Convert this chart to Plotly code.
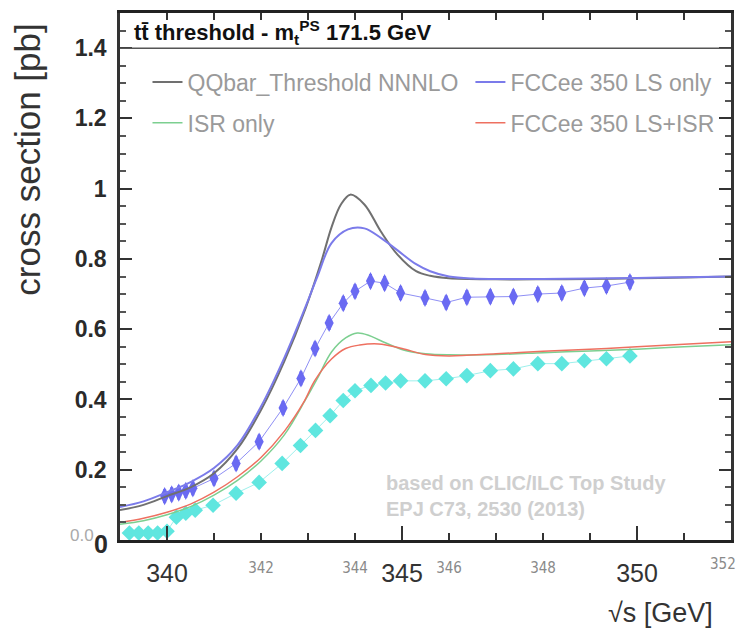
import plotly.graph_objects as go

# ---- data ----
# theory curves
qq_x = [339.0, 339.5, 340.0, 340.5, 341.0, 341.5, 342.0, 342.5, 342.95, 343.3, 343.5, 343.7, 343.9,
        344.2, 344.55, 344.9, 345.3, 345.6, 346.0, 347.0, 348.0, 349.0, 350.0, 351.0, 352.0]
qq_y = [0.085, 0.10, 0.125, 0.15, 0.19, 0.26, 0.37, 0.51, 0.66, 0.80, 0.89, 0.955, 0.983,
        0.955, 0.878, 0.813, 0.765, 0.752, 0.745, 0.742, 0.742, 0.743, 0.745, 0.747, 0.75]

ls_x = [339.0, 339.5, 340.0, 340.5, 341.0, 341.5, 342.0, 342.5, 342.95, 343.2, 343.5, 343.85, 344.2,
        344.55, 344.9, 345.3, 345.6, 346.0, 346.5, 347.0, 348.0, 349.0, 350.0, 351.0, 352.0]
ls_y = [0.094, 0.11, 0.136, 0.165, 0.205, 0.27, 0.38, 0.52, 0.665, 0.75, 0.845, 0.884, 0.887,
        0.86, 0.825, 0.785, 0.765, 0.75, 0.744, 0.743, 0.743, 0.744, 0.746, 0.748, 0.75]

isr_x = [339.0, 339.5, 340.0, 340.5, 341.0, 341.5, 342.0, 342.5, 342.95, 343.2, 343.5, 343.8, 344.05,
         344.3, 344.55, 345.05, 345.5, 346.0, 347.0, 348.0, 349.0, 350.0, 351.0, 352.0]
isr_y = [0.045, 0.055, 0.072, 0.095, 0.128, 0.17, 0.225, 0.30, 0.40, 0.46, 0.535, 0.575, 0.589,
         0.582, 0.567, 0.54, 0.53, 0.527, 0.528, 0.533, 0.538, 0.543, 0.55, 0.556]

lsisr_x = [339.0, 339.5, 340.0, 340.5, 341.0, 341.5, 342.0, 342.5, 342.9, 343.15, 343.5, 343.8, 344.1,
           344.5, 345.0, 345.5, 346.0, 347.0, 348.0, 349.0, 350.0, 351.0, 352.0]
lsisr_y = [0.05, 0.062, 0.079, 0.102, 0.136, 0.18, 0.235, 0.31, 0.39, 0.455, 0.515, 0.545, 0.555,
           0.558, 0.545, 0.528, 0.524, 0.53, 0.537, 0.543, 0.55, 0.557, 0.564]

# pseudo-data points
blue_x = [339.95, 340.1, 340.25, 340.4, 340.55, 341.0, 341.47, 341.96, 342.47, 342.85, 343.15, 343.45,
          343.75, 344.0, 344.33, 344.63, 344.97, 345.49, 345.94, 346.38, 346.88, 347.37, 347.89,
          348.4, 348.88, 349.35, 349.85]
blue_y = [0.125, 0.13, 0.135, 0.14, 0.147, 0.175, 0.218, 0.28, 0.376, 0.46, 0.545, 0.618,
          0.674, 0.708, 0.737, 0.731, 0.703, 0.689, 0.676, 0.691, 0.693, 0.693, 0.70,
          0.703, 0.717, 0.723, 0.734]
blue_err = [0.02] * len(blue_x)

cyan_x = [339.2, 339.4, 339.6, 339.8, 340.0, 340.2, 340.4, 340.6, 340.98, 341.47, 341.96, 342.45,
          342.84, 343.16, 343.47, 343.75, 344.0, 344.34, 344.65, 344.97, 345.49, 345.94, 346.38,
          346.88, 347.37, 347.89, 348.4, 348.88, 349.35, 349.85]
cyan_y = [0.02, 0.02, 0.02, 0.02, 0.025, 0.065, 0.076, 0.085, 0.099, 0.133, 0.164, 0.218,
          0.269, 0.312, 0.354, 0.397, 0.425, 0.44, 0.447, 0.453, 0.453, 0.459, 0.468,
          0.482, 0.487, 0.502, 0.502, 0.510, 0.516, 0.524]
cyan_err = [0.015] * len(cyan_x)

x_minor_ticks = list(range(339, 353))
x_small_labels = [str(v) if (v % 2 == 0 and v not in (340, 350, 352)) else "" for v in x_minor_ticks]
x_edge_label = "352"
x_big_ticks = [340, 345, 350]
y_ticks = [0, 0.2, 0.4, 0.6, 0.8, 1.0, 1.2, 1.4]
y_labels = ["", "0.2", "0.4", "0.6", "0.8", "1", "1.2", "1.4"]

small_font = dict(size=15, color="#8a8a8a",
                  family="DejaVu Sans Condensed, Liberation Sans Narrow, Liberation Sans")

fig = go.Figure()

fig.add_trace(go.Scatter(x=cyan_x, y=cyan_y, mode="lines+markers",
                         line=dict(color="#9ef0ec", width=1),
                         marker=dict(symbol="diamond", size=12, color="#5fe6df"),
                         error_y=dict(type="data", array=cyan_err, color="#5fe6df", thickness=3, width=0),
                         showlegend=False))
fig.add_trace(go.Scatter(x=blue_x, y=blue_y, mode="lines+markers",
                         line=dict(color="#8f8ff5", width=1),
                         marker=dict(symbol="diamond-tall", size=13, color="#6a6af2"),
                         error_y=dict(type="data", array=blue_err, color="#6a6af2", thickness=3, width=0),
                         showlegend=False))

fig.add_trace(go.Scatter(x=qq_x, y=qq_y, mode="lines", name="QQbar_Threshold NNNLO",
                         line=dict(color="#707070", width=2, shape="spline"),
                         legend="legend", legendgroup="a"))
fig.add_trace(go.Scatter(x=isr_x, y=isr_y, mode="lines", name="ISR only",
                         line=dict(color="#7ccf90", width=1.5, shape="spline"),
                         legend="legend", legendgroup="b"))
fig.add_trace(go.Scatter(x=ls_x, y=ls_y, mode="lines", name="FCCee 350 LS only",
                         line=dict(color="#7b7bea", width=2, shape="spline"),
                         legend="legend2", legendgroup="c"))
fig.add_trace(go.Scatter(x=lsisr_x, y=lsisr_y, mode="lines", name="FCCee 350 LS+ISR",
                         line=dict(color="#ee7060", width=1.5, shape="spline"),
                         legend="legend2", legendgroup="d"))
# carrier for the overlay axis with the large labels
fig.add_trace(go.Scatter(x=[None], y=[None], xaxis="x2", showlegend=False, hoverinfo="skip"))

fig.update_layout(
    width=741, height=626,
    margin=dict(l=112, r=18, t=2, b=94),
    plot_bgcolor="white", paper_bgcolor="white",
    font=dict(family="Liberation Sans, Arial, sans-serif"),
    xaxis=dict(range=[339, 352], tickmode="array", tickvals=x_minor_ticks, ticktext=x_small_labels,
               ticks="inside", ticklen=7, tickcolor="#333", tickwidth=1.5,
               showline=True, linecolor="#222", linewidth=2.5, mirror="ticks",
               showgrid=False, zeroline=False, ticklabeloverflow="allow",
               tickfont=small_font, ticklabelstandoff=12),
    xaxis2=dict(range=[339, 352], overlaying="x", anchor="y", side="bottom",
                tickmode="array", tickvals=x_big_ticks, ticktext=[str(v) for v in x_big_ticks],
                ticks="inside", ticklen=14, tickcolor="#333", tickwidth=1.5,
                showline=False, showgrid=False, zeroline=False,
                tickfont=dict(size=25, color="#333"), ticklabelstandoff=16),
    yaxis=dict(range=[0, 1.5], tickmode="array", tickvals=y_ticks, ticktext=y_labels,
               ticks="inside", ticklen=12, tickcolor="#333", tickwidth=1.5,
               minor=dict(dtick=0.05, tick0=0, ticks="inside", ticklen=6, tickcolor="#555"),
               showline=True, linecolor="#333", linewidth=2.5, mirror="ticks",
               showgrid=False, zeroline=False,
               tickfont=dict(size=23, color="#2a2a2a", weight="bold"), ticklabelstandoff=6),
    legend=dict(x=0.045, y=0.91, xanchor="left", yanchor="top", bgcolor="rgba(0,0,0,0)",
                font=dict(size=23, color="#9a9a9a"), tracegroupgap=8, itemwidth=30),
    legend2=dict(x=0.5735, y=0.91, xanchor="left", yanchor="top", bgcolor="rgba(0,0,0,0)",
                 font=dict(size=23, color="#9a9a9a"), tracegroupgap=8, itemwidth=30),
    shapes=[dict(type="line", xref="paper", yref="y", x0=0, x1=1, y0=1.4, y1=1.4,
                 line=dict(color="#555", width=1.5))],
    annotations=[
        dict(text="<b>tt̄ threshold - m<sub>t</sub><sup>PS</sup> 171.5 GeV</b>", xref="paper", yref="y",
             x=0.02, y=1.395, xanchor="left", yanchor="bottom", showarrow=False,
             font=dict(size=22, color="#111")),
        dict(text="<b>based on CLIC/ILC Top Study<br>EPJ C73, 2530 (2013)</b>", xref="paper", yref="y",
             x=0.432, y=0.2, xanchor="left", yanchor="top", showarrow=False, align="left",
             font=dict(size=20, color="#cfcfcf")),
        dict(text="cross section [pb]", xref="paper", yref="paper", x=-0.152, y=0.722,
             xanchor="center", yanchor="middle", textangle=-90, showarrow=False,
             font=dict(size=35, color="#333")),
        dict(text="√s [GeV]", xref="paper", yref="paper", x=0.885, y=-0.139,
             xanchor="center", yanchor="middle", showarrow=False,
             font=dict(size=27, color="#333")),
        dict(text="0.0", xref="paper", yref="paper", x=-0.04, y=0.008, xanchor="right", yanchor="middle",
             showarrow=False, font=dict(size=17, color="#aaa")),
        dict(text="<b>0</b>", xref="paper", yref="paper", x=-0.016, y=-0.008, xanchor="right", yanchor="middle",
             showarrow=False, font=dict(size=25, color="#2a2a2a")),
        dict(text=x_edge_label, xref="paper", yref="paper", x=1.011, y=-0.045, xanchor="right",
             yanchor="middle", showarrow=False, font=small_font),
    ],
)

fig.write_html("out.html")
